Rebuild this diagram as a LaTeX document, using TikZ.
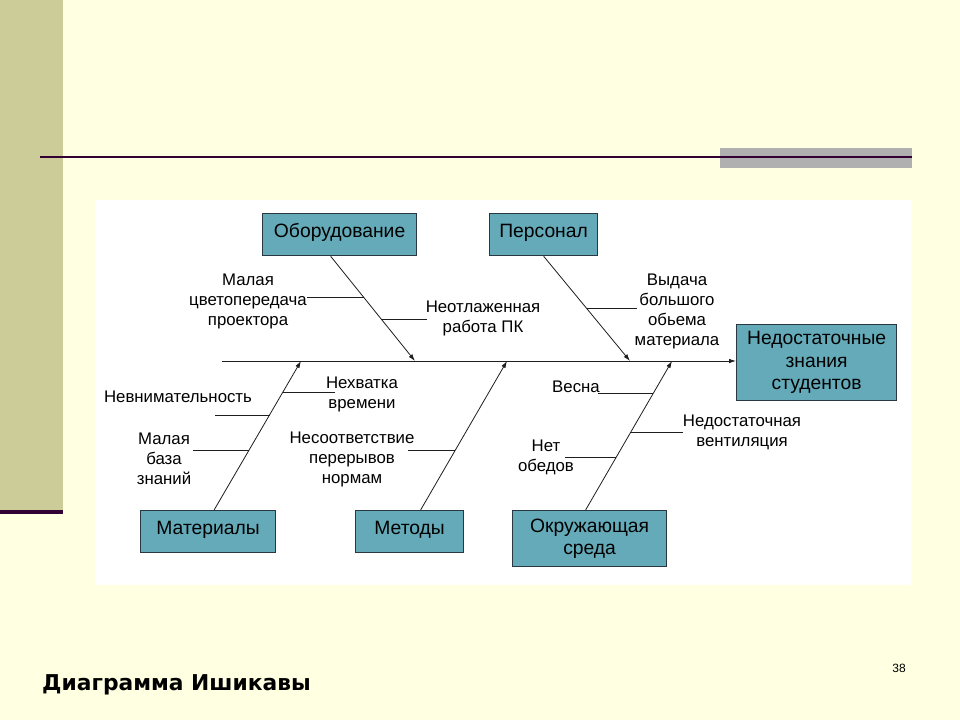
\documentclass[tikz,border=0pt]{standalone}
\usepackage{fontspec}
\setmainfont{Liberation Sans}
\newfontfamily\titlefont{DejaVu Sans}
\usetikzlibrary{arrows.meta}
\definecolor{slidebg}{RGB}{255,255,225}
\definecolor{sidebar}{RGB}{204,204,153}
\definecolor{rulepurple}{RGB}{51,0,51}
\definecolor{rulegray}{RGB}{176,176,176}
\definecolor{boxfill}{RGB}{100,170,185}
\definecolor{boxline}{RGB}{40,55,65}
\definecolor{bonecol}{RGB}{30,30,30}
\tikzset{
  cause/.style={draw=boxline, line width=1.2pt, fill=boxfill, inner sep=0pt, align=center,
    font=\fontsize{19.3}{22.5}\selectfont, anchor=north west},
  oneline/.style={text height=15pt, text depth=9pt},
  lbl/.style={align=center, inner sep=0pt, font=\fontsize{16.8}{20}\selectfont},
  bone/.style={draw=bonecol, line width=0.8pt, -{Latex[length=7pt,width=4.5pt]}},
  twig/.style={draw=bonecol, line width=0.7pt},
}
\begin{document}
\begin{tikzpicture}[x=1pt,y=-1pt]
% slide
\fill[slidebg] (0,0) rectangle (960,720);
\fill[sidebar] (0,0) rectangle (63,510);
\fill[rulepurple] (0,510) rectangle (63,514);
\fill[rulegray] (720,148) rectangle (912,168);
\draw[rulepurple, line width=2.5pt] (40,157) -- (912,157);
\fill[white] (95,200) rectangle (911,585);
% boxes
\node[cause, oneline, minimum width=154pt, minimum height=42pt] (equip) at (262,213) {Оборудование};
\node[cause, oneline, minimum width=108pt, minimum height=42pt] (staff) at (489,213) {Персонал};
\node[cause, minimum width=160pt, minimum height=76pt] (effect) at (736,324) {Недостаточные\\знания\\студентов};
\node[cause, oneline, minimum width=135pt, minimum height=42pt] (mater) at (140,510) {Материалы};
\node[cause, oneline, minimum width=108pt, minimum height=42pt] (meth) at (355,510) {Методы};
\node[cause, minimum width=154pt, minimum height=56pt] (env) at (512,510) {Окружающая\\среда};
% spine and bones
\coordinate (tail) at (222,361);
\foreach \n/\x in {o/415, p/630, m/301, me/507, s/672}
  \coordinate (\n) at (\x,361);
\draw[bone] (tail) -- (tail -| effect.west);
\draw[bone] ([xshift=-9pt]equip.south) -- (o);
\draw[bone] (staff.south) -- (p);
\draw[bone] ([xshift=6pt]mater.north) -- (m);
\draw[bone] ([xshift=11pt]meth.north) -- (me);
\draw[bone] ([xshift=-4pt]env.north) -- (s);
% labels
\node[lbl] (color) at (248,301) {Малая\\цветопередача\\проектора};
\node[lbl] (pc) at (483,318) {Неотлаженная\\работа ПК};
\node[lbl] (issue) at (677,311) {Выдача\\большого\\обьема\\материала};
\node[lbl] (attn) at (178,397) {Невнимательность};
\node[lbl] (time) at (362,394) {Нехватка\\времени};
\node[lbl] (base) at (164,459) {Малая\\база\\знаний};
\node[lbl] (breaks) at (352,459) {Несоответствие\\перерывов\\нормам};
\node[lbl] (spring) at (576,387) {Весна};
\node[lbl] (vent) at (742,432) {Недостаточная\\вентиляция};
\node[lbl] (lunch) at (546,457) {Нет\\обедов};
% twigs
\foreach \n/\x/\y in {c1/307/297, c2/364/297, k1/381/319, k2/427/319, v1/587/308, v2/637/308,
  t1/283/392, t2/335/392, a1/215/415, a2/270/415, b1/193/450, b2/249/450,
  n1/408/450, n2/455/450, w1/598/393, w2/653/393, d1/630/432, d2/683/432, l1/565/457, l2/616/457}
  \coordinate (\n) at (\x,\y);
\foreach \a/\b in {c1/c2, k1/k2, v1/v2, t1/t2, a1/a2, b1/b2, n1/n2, w1/w2, d1/d2, l1/l2}
  \draw[twig] (\a) -- (\b);
% footer
\node[font=\titlefont\bfseries\fontsize{21.8}{25}\selectfont, anchor=base west, inner sep=0pt] (title) at (42,690) {Диаграмма Ишикавы};
\node[font=\fontsize{12}{14}\selectfont] (pnum) at (899,668) {38};
\end{tikzpicture}
\end{document}
